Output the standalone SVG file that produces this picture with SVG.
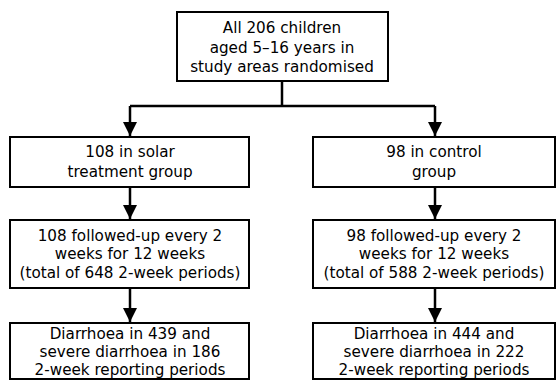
<svg xmlns="http://www.w3.org/2000/svg" width="557" height="380" viewBox="0 0 557 380">
<defs>
<style>
.box{fill:#fff;stroke:#000;stroke-width:2}
.t{font-family:"DejaVu Sans","Liberation Sans",sans-serif;font-size:15.2px;fill:#000;text-anchor:middle}
.ln{stroke:#000;stroke-width:2.5;fill:none}
.ah{fill:#000}
</style>
</defs>
<rect width="557" height="380" fill="#fff"/>
<g id="connectors">
<path class="ln" d="M282,81 V106"/>
<path class="ln" d="M130,106 H435"/>
<path class="ln" d="M130,106 V136"/>
<path class="ln" d="M435,106 V136"/>
<path class="ah" d="M123,122 H137 L130,136 Z"/>
<path class="ah" d="M428,122 H442 L435,136 Z"/>
<path class="ln" d="M130,187 V219"/>
<path class="ln" d="M435,187 V219"/>
<path class="ah" d="M123,205 H137 L130,219 Z"/>
<path class="ah" d="M428,205 H442 L435,219 Z"/>
<path class="ln" d="M130,288 V322"/>
<path class="ln" d="M435,288 V322"/>
<path class="ah" d="M123,308 H137 L130,322 Z"/>
<path class="ah" d="M428,308 H442 L435,322 Z"/>
</g>
<g id="n-all">
<rect class="box" x="177" y="12" width="211" height="69"/>
<text class="t" x="282" y="33">All 206 children</text>
<text class="t" x="282" y="53">aged 5–16 years in</text>
<text class="t" x="282" y="72">study areas randomised</text>
</g>
<g id="n-solar">
<rect class="box" x="10" y="137" width="239" height="50"/>
<text class="t" x="130" y="157">108 in solar</text>
<text class="t" x="130" y="177">treatment group</text>
</g>
<g id="n-control">
<rect class="box" x="313" y="137" width="242" height="50"/>
<text class="t" x="434" y="157">98 in control</text>
<text class="t" x="434" y="177">group</text>
</g>
<g id="n-solar-fu">
<rect class="box" x="10" y="220" width="239" height="68"/>
<text class="t" x="130" y="241">108 followed-up every 2</text>
<text class="t" x="130" y="259">weeks for 12 weeks</text>
<text class="t" x="130" y="278">(total of 648 2-week periods)</text>
</g>
<g id="n-control-fu">
<rect class="box" x="313" y="220" width="242" height="68"/>
<text class="t" x="434" y="241">98 followed-up every 2</text>
<text class="t" x="434" y="259">weeks for 12 weeks</text>
<text class="t" x="434" y="278">(total of 588 2-week periods)</text>
</g>
<g id="n-solar-out">
<rect class="box" x="10" y="323" width="239" height="56"/>
<text class="t" x="130" y="339">Diarrhoea in 439 and</text>
<text class="t" x="130" y="357">severe diarrhoea in 186</text>
<text class="t" x="130" y="375">2-week reporting periods</text>
</g>
<g id="n-control-out">
<rect class="box" x="313" y="323" width="242" height="56"/>
<text class="t" x="434" y="339">Diarrhoea in 444 and</text>
<text class="t" x="434" y="357">severe diarrhoea in 222</text>
<text class="t" x="434" y="375">2-week reporting periods</text>
</g>
</svg>
